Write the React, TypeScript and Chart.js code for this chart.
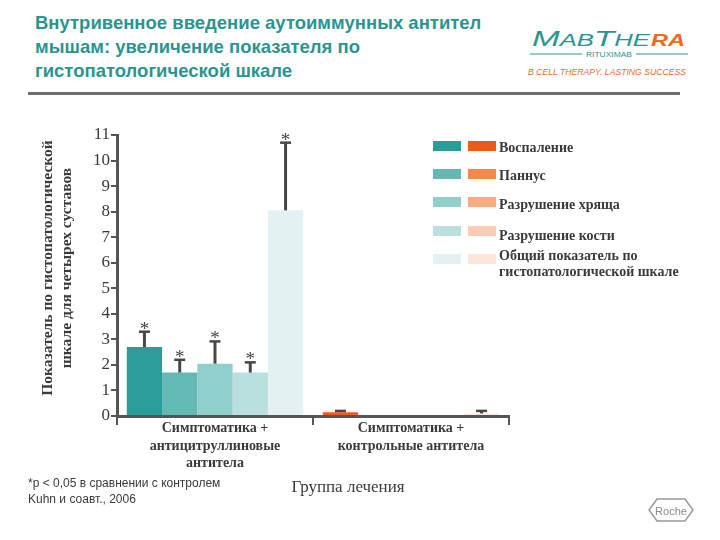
import React, { useEffect, useRef } from "react";
import { Chart, registerables } from "chart.js";

Chart.register(...registerables);

// ---------- data ----------
const categories: string[][] = [
  ["Симптоматика +", "антицитруллиновые", "антитела"],
  ["Симптоматика +", "контрольные антитела"],
];
const seriesNames = [
  "Воспаление",
  "Паннус",
  "Разрушение хряща",
  "Разрушение кости",
  "Общий показатель по гистопатологической шкале",
];
const legendLines: string[][] = [
  ["Воспаление"],
  ["Паннус"],
  ["Разрушение хряща"],
  ["Разрушение кости"],
  ["Общий показатель по", "гистопатологической шкале"],
];
const inflammation = [2.7, 0.15];
const pannus = [1.7, 0];
const cartilage = [2.05, 0];
const bone = [1.7, 0];
const total = [8.05, 0.1];
const inflammationErr: (number | null)[] = [3.3, 0.2];
const pannusErr: (number | null)[] = [2.2, null];
const cartilageErr: (number | null)[] = [2.92, null];
const boneErr: (number | null)[] = [2.1, null];
const totalErr: (number | null)[] = [10.7, 0.2];
const significant = [true, false];
const yMin = 0;
const yMax = 11;
const yStep = 1;

const seriesValues = [inflammation, pannus, cartilage, bone, total];
const seriesErrors = [inflammationErr, pannusErr, cartilageErr, boneErr, totalErr];

const tealColors = ["#2a9d98", "#64b9b5", "#90cfcc", "#b9e0de", "#e3f1f3"];
const orangeColors = ["#f15a14", "#f5894a", "#f9ab82", "#fccdb3", "#fde7dd"];

const SERIF = "'Liberation Serif', 'Times New Roman', serif";
const SANS = "'Liberation Sans', Arial, sans-serif";

const errorBarPlugin = {
  id: "errorBars",
  afterDatasetsDraw(chart: any) {
    const ctx = chart.ctx;
    const yScale = chart.scales.y;
    chart.data.datasets.forEach((ds: any, di: number) => {
      const meta = chart.getDatasetMeta(di);
      meta.data.forEach((bar: any, i: number) => {
        const e = seriesErrors[di][i];
        if (e == null) return;
        const x = bar.x;
        const yTop = yScale.getPixelForValue(e);
        const yBase = yScale.getPixelForValue(ds.data[i]);
        ctx.save();
        ctx.strokeStyle = "#474747";
        ctx.lineWidth = 3;
        ctx.beginPath();
        ctx.moveTo(x, yBase);
        ctx.lineTo(x, yTop);
        ctx.stroke();
        ctx.lineWidth = 2.5;
        ctx.beginPath();
        ctx.moveTo(x - 5.5, yTop);
        ctx.lineTo(x + 5.5, yTop);
        ctx.stroke();
        if (significant[i]) {
          ctx.fillStyle = "#444";
          ctx.font = `19px ${SERIF}`;
          ctx.textAlign = "center";
          ctx.textBaseline = "alphabetic";
          ctx.fillText("*", x, yTop + 3);
        }
        ctx.restore();
      });
    });
  },
};

function BarChart() {
  const ref = useRef<HTMLCanvasElement | null>(null);
  useEffect(() => {
    if (!ref.current) return;
    const chart = new Chart(ref.current, {
      type: "bar",
      data: {
        labels: categories,
        datasets: seriesNames.map((name, i) => ({
          label: name,
          data: seriesValues[i],
          backgroundColor: [tealColors[i], orangeColors[i]],
          borderWidth: 0,
          barPercentage: 1,
          categoryPercentage: 0.9,
        })),
      },
      options: {
        responsive: false,
        animation: false,
        devicePixelRatio: 1,
        layout: { padding: { top: 135, right: 211, left: 0, bottom: 0 } },
        plugins: { legend: { display: false }, tooltip: { enabled: false } },
        scales: {
          x: {
            offset: true,
            grid: {
              display: true,
              drawOnChartArea: false,
              drawTicks: true,
              tickLength: 9,
              color: "#555",
              lineWidth: 2,
              offset: true,
            },
            border: { display: true, color: "#555", width: 3 },
            ticks: {
              font: { family: SERIF, size: 14, weight: "bold", lineHeight: 1.25 },
              color: "#3a3a3a",
              padding: -5,
              maxRotation: 0,
              autoSkip: false,
            },
            afterFit: (s: any) => {
              s.height = 124;
            },
          },
          y: {
            min: yMin,
            max: yMax,
            ticks: {
              stepSize: yStep,
              font: { family: SERIF, size: 17 },
              color: "#3a3a3a",
              padding: 1,
            },
            grid: {
              display: true,
              drawOnChartArea: false,
              drawTicks: true,
              tickLength: 6,
              color: "#555",
              lineWidth: 2,
            },
            border: { display: true, color: "#555", width: 3 },
            afterFit: (s: any) => {
              s.width = 117;
            },
          },
        },
      } as any,
      plugins: [errorBarPlugin],
    });
    return () => chart.destroy();
  }, []);
  return (
    <canvas
      ref={ref}
      width={720}
      height={540}
      style={{ position: "absolute", left: 0, top: 0, width: 720, height: 540 }}
    />
  );
}

export default function App() {
  return (
    <div
      style={{
        position: "fixed",
        left: 0,
        top: 0,
        width: 720,
        height: 540,
        background: "#ffffff",
        overflow: "hidden",
      }}
    >
      {/* title */}
      <div
        style={{
          position: "absolute",
          left: 35,
          top: 11,
          fontFamily: SANS,
          fontWeight: "bold",
          fontSize: 18.5,
          lineHeight: "24px",
          color: "#2a9590",
          whiteSpace: "nowrap",
        }}
      >
        Внутривенное введение аутоиммунных антител
        <br />
        мышам: увеличение показателя по
        <br />
        гистопатологической шкале
      </div>

      {/* MabThera logo */}
      <svg
        width={200}
        height={80}
        style={{ position: "absolute", left: 520, top: 20 }}
      >
        <text
          x={12}
          y={26}
          fontFamily={SANS}
          fontSize={22}
          fill="#2a9590"
          textLength={118}
          lengthAdjust="spacingAndGlyphs"
          fontStyle="italic"
        >
          M<tspan fontSize={17}>AB</tspan>T<tspan fontSize={17}>HE</tspan>
        </text>
        <text
          x={131}
          y={26}
          fontFamily={SANS}
          fontSize={17}
          fill="#f06a1e"
          fontStyle="italic"
          fontWeight="bold"
          textLength={34}
          lengthAdjust="spacingAndGlyphs"
        >
          RA
        </text>
        <line x1={10} y1={34} x2={62} y2={34} stroke="#2a9590" strokeWidth={1.2} />
        <line x1={116} y1={34} x2={168} y2={34} stroke="#2a9590" strokeWidth={1.2} />
        <text
          x={89}
          y={37}
          fontFamily={SANS}
          fontSize={7}
          fill="#2a9590"
          textAnchor="middle"
          textLength={46}
          lengthAdjust="spacingAndGlyphs"
        >
          RITUXIMAB
        </text>
        <text
          x={8}
          y={55}
          fontFamily={SANS}
          fontSize={9}
          fill="#f06a1e"
          fontStyle="italic"
          textLength={158}
          lengthAdjust="spacingAndGlyphs"
        >
          B CELL THERAPY. LASTING SUCCESS
        </text>
      </svg>

      {/* rule under title */}
      <div
        style={{
          position: "absolute",
          left: 28,
          top: 92,
          width: 652,
          height: 3,
          background: "#6e6e6e",
        }}
      />

      <BarChart />

      {/* y axis title */}
      <div
        style={{
          position: "absolute",
          left: 57 - 170,
          top: 268 - 20,
          width: 340,
          height: 40,
          transform: "rotate(-90deg)",
          textAlign: "center",
          fontFamily: SERIF,
          fontWeight: "bold",
          fontSize: 15.5,
          lineHeight: "19px",
          color: "#3a3a3a",
          whiteSpace: "nowrap",
        }}
      >
        Показатель по гистопатологической
        <br />
        шкале для четырех суставов
      </div>

      {/* x axis title */}
      <div
        style={{
          position: "absolute",
          left: 248,
          top: 477,
          width: 200,
          textAlign: "center",
          fontFamily: SERIF,
          fontSize: 17,
          lineHeight: "20px",
          color: "#3a3a3a",
        }}
      >
        Группа лечения
      </div>

      {/* legend */}
      {legendLines.map((lines, i) => {
        const swY = [146, 174, 202, 231, 259][i];
        const lblTop = [140, 168, 197, 228, 248][i];
        return (
          <React.Fragment key={i}>
            <div
              style={{
                position: "absolute",
                left: 433,
                top: swY - 5,
                width: 28,
                height: 10,
                background: tealColors[i],
              }}
            />
            <div
              style={{
                position: "absolute",
                left: 468,
                top: swY - 5,
                width: 28,
                height: 10,
                background: orangeColors[i],
              }}
            />
            <div
              style={{
                position: "absolute",
                left: 499,
                top: lblTop,
                fontFamily: SERIF,
                fontWeight: "bold",
                fontSize: 14,
                lineHeight: "16px",
                color: "#3a3a3a",
                whiteSpace: "nowrap",
              }}
            >
              {lines.map((l, k) => (
                <div key={k}>{l}</div>
              ))}
            </div>
          </React.Fragment>
        );
      })}

      {/* footnote */}
      <div
        style={{
          position: "absolute",
          left: 28,
          top: 475,
          fontFamily: SANS,
          fontSize: 12,
          lineHeight: "16px",
          color: "#3a3a3a",
          whiteSpace: "nowrap",
        }}
      >
        *p &lt; 0,05 в сравнении с контролем
        <br />
        Kuhn и соавт., 2006
      </div>

      {/* Roche logo */}
      <svg width={50} height={26} style={{ position: "absolute", left: 646, top: 497 }}>
        <polygon
          points="3,13 11,2 39,2 47,13 39,24 11,24"
          fill="none"
          stroke="#9a9a9a"
          strokeWidth={1.5}
        />
        <text
          x={25}
          y={17.5}
          fontFamily={SANS}
          fontSize={11}
          fill="#8a8a8a"
          textAnchor="middle"
        >
          Roche
        </text>
      </svg>
    </div>
  );
}
